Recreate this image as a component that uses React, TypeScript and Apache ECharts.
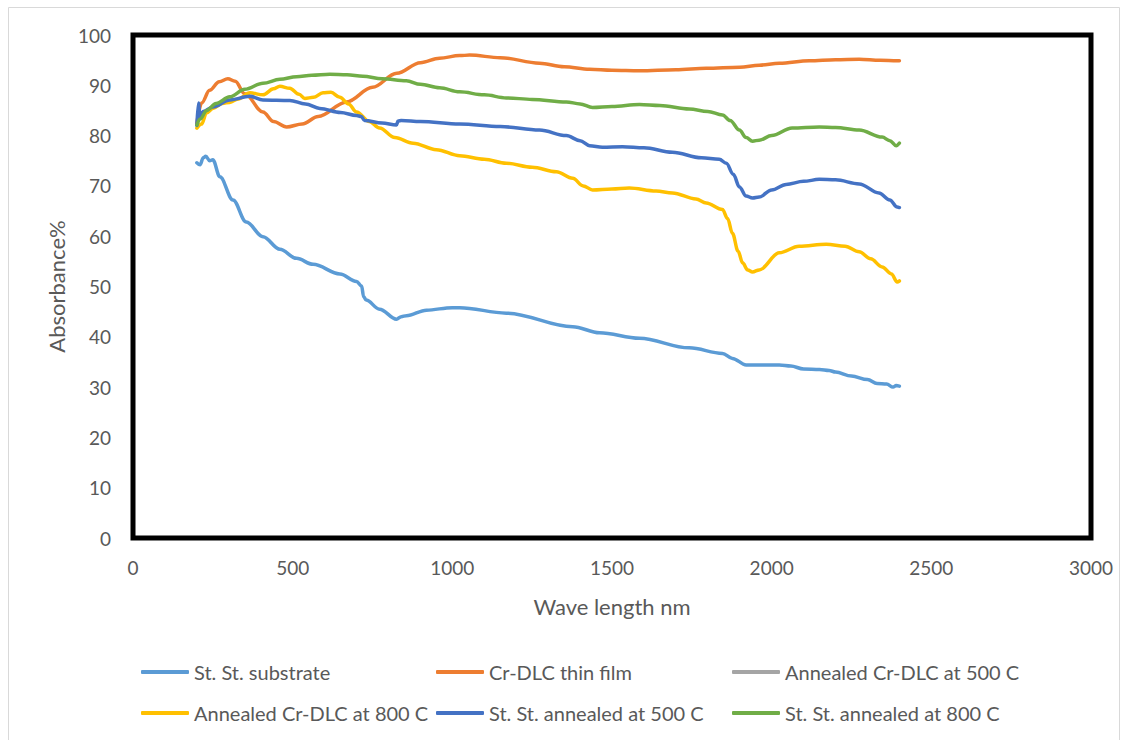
import React, { useEffect, useRef } from "react";
import * as echarts from "echarts";

// Wavelength (nm) / Absorbance (%) readings per series
const substrateWl = [200, 210, 220, 228, 240, 250, 272, 313, 355, 407, 460, 512, 564, 648, 700, 716, 722, 730, 772, 825, 840, 856, 919, 1000, 1023, 1169, 1377, 1461, 1586, 1742, 1846, 1877, 1920, 1960, 2024, 2060, 2100, 2150, 2180, 2200, 2250, 2300, 2330, 2360, 2380, 2390, 2400];
const substrateVal = [74.6, 74.2, 75.6, 75.9, 75.0, 75.2, 71.8, 67.2, 62.8, 59.9, 57.4, 55.6, 54.4, 52.5, 51.0, 50.1, 48.0, 47.3, 45.5, 43.5, 44.0, 44.2, 45.3, 45.8, 45.8, 44.7, 42.0, 40.8, 39.7, 37.8, 36.7, 35.7, 34.4, 34.4, 34.4, 34.2, 33.6, 33.5, 33.3, 33.0, 32.2, 31.5, 30.7, 30.6, 30.0, 30.3, 30.2];

const crdlcWl = [200, 215, 240, 270, 297, 320, 350, 407, 440, 481, 530, 580, 669, 750, 826, 900, 960, 1023, 1054, 1150, 1273, 1350, 1430, 1500, 1586, 1700, 1795, 1900, 1961, 2024, 2118, 2200, 2274, 2340, 2393, 2400];
const crdlcVal = [82.5, 86.5, 89.0, 90.7, 91.3, 90.8, 88.3, 84.7, 82.8, 81.7, 82.3, 83.8, 86.7, 89.6, 92.4, 94.5, 95.4, 95.9, 96.0, 95.5, 94.4, 93.7, 93.2, 93.0, 92.9, 93.1, 93.4, 93.6, 94.0, 94.4, 94.9, 95.1, 95.2, 95.0, 94.9, 94.9];

const ann500Wl: number[] = [];
const ann500Val: number[] = [];

const ann800Wl = [200, 215, 230, 250, 280, 303, 330, 366, 407, 440, 460, 491, 520, 538, 565, 595, 620, 648, 675, 700, 740, 772, 820, 877, 950, 1023, 1100, 1169, 1250, 1326, 1377, 1410, 1439, 1500, 1554, 1638, 1689, 1763, 1795, 1846, 1862, 1877, 1895, 1909, 1925, 1940, 1961, 2024, 2086, 2171, 2230, 2274, 2310, 2346, 2375, 2393, 2400];
const ann800Val = [81.5, 82.3, 84.5, 85.4, 86.4, 86.6, 87.3, 88.5, 88.1, 89.3, 89.8, 89.4, 88.2, 87.4, 87.6, 88.5, 88.6, 87.6, 86.3, 84.7, 82.8, 81.5, 79.6, 78.5, 77.2, 76.0, 75.3, 74.5, 73.7, 72.8, 71.5, 70.0, 69.2, 69.4, 69.6, 69.0, 68.6, 67.4, 66.6, 65.3, 63.5, 60.6, 57.0, 54.7, 53.3, 52.9, 53.3, 56.7, 58.0, 58.4, 58.0, 56.9, 55.5, 53.9, 52.5, 50.9, 51.1];

const ss500Wl = [200, 205, 210, 220, 250, 303, 366, 407, 491, 540, 585, 650, 700, 715, 725, 780, 825, 830, 840, 900, 1023, 1150, 1273, 1357, 1400, 1430, 1470, 1533, 1600, 1689, 1780, 1836, 1858, 1880, 1899, 1920, 1940, 1961, 2000, 2045, 2100, 2149, 2200, 2274, 2336, 2370, 2393, 2400];
const ss500Val = [82.0, 86.5, 83.7, 84.8, 85.7, 87.1, 87.8, 87.1, 87.0, 86.3, 85.4, 84.6, 84.0, 83.8, 83.0, 82.5, 82.1, 82.9, 83.0, 82.8, 82.3, 81.8, 81.1, 80.0, 79.0, 78.0, 77.7, 77.8, 77.6, 76.7, 75.6, 75.3, 74.5, 72.3, 69.8, 68.0, 67.6, 67.8, 69.2, 70.3, 70.9, 71.3, 71.2, 70.4, 68.6, 67.2, 65.8, 65.7];

const ss800Wl = [200, 210, 231, 260, 303, 350, 407, 460, 512, 560, 616, 670, 720, 780, 856, 900, 960, 1023, 1100, 1169, 1250, 1357, 1400, 1439, 1500, 1586, 1650, 1742, 1800, 1846, 1870, 1899, 1920, 1940, 1961, 2000, 2064, 2149, 2200, 2274, 2346, 2370, 2390, 2400];
const ss800Val = [82.1, 83.3, 85.0, 86.4, 87.7, 89.2, 90.4, 91.2, 91.7, 92.0, 92.2, 92.1, 91.8, 91.3, 90.9, 90.2, 89.5, 88.7, 88.1, 87.5, 87.2, 86.7, 86.3, 85.6, 85.8, 86.2, 86.0, 85.3, 84.8, 84.1, 83.0, 81.1, 79.6, 78.9, 79.1, 80.0, 81.5, 81.7, 81.6, 81.1, 79.7, 79.0, 78.0, 78.5];

const seriesNames = [
  "St. St. substrate",
  "Cr-DLC thin film",
  "Annealed Cr-DLC at 500 C",
  "Annealed Cr-DLC at 800 C",
  "St. St. annealed at 500 C",
  "St. St. annealed at 800 C",
];
const seriesColors = ["#5B9BD5", "#ED7D31", "#A5A5A5", "#FFC000", "#4472C4", "#70AD47"];
const seriesWl = [substrateWl, crdlcWl, ann500Wl, ann800Wl, ss500Wl, ss800Wl];
const seriesVal = [substrateVal, crdlcVal, ann500Val, ann800Val, ss500Val, ss800Val];

const xTicks = [0, 500, 1000, 1500, 2000, 2500, 3000];
const yTicks = [0, 10, 20, 30, 40, 50, 60, 70, 80, 90, 100];

const FONT = "Lato";
const TEXT = "#595959";

// legend item positions (left, center y)
const legendPos = [
  [141, 672],
  [436, 672],
  [732, 672],
  [141, 713],
  [436, 713],
  [732, 713],
];

export default function App() {
  const ref = useRef<HTMLDivElement>(null);
  useEffect(() => {
    if (!ref.current) return;
    const chart = echarts.init(ref.current, undefined, { renderer: "svg" });
    const fs = 19;
    chart.setOption({
      animation: false,
      backgroundColor: "#ffffff",
      textStyle: { fontFamily: FONT },
      grid: {
        left: 133,
        right: 37,
        top: 35,
        bottom: 202,
        show: true,
        borderColor: "#000000",
        borderWidth: 5,
        backgroundColor: "transparent",
      },
      xAxis: {
        type: "value",
        min: xTicks[0],
        max: xTicks[xTicks.length - 1],
        interval: 500,
        name: "Wave length nm",
        nameLocation: "middle",
        nameGap: 57,
        nameTextStyle: { fontFamily: FONT, fontSize: 22, color: TEXT },
        axisLine: { show: false },
        axisTick: { show: false },
        splitLine: { show: false },
        axisLabel: {
          fontFamily: FONT,
          fontSize: fs,
          color: TEXT,
          margin: 20,
          formatter: (v: number) => String(v),
        },
      },
      yAxis: {
        type: "value",
        min: yTicks[0],
        max: yTicks[yTicks.length - 1],
        interval: 10,
        name: "Absorbance%",
        nameLocation: "middle",
        nameGap: 64,
        nameTextStyle: { fontFamily: FONT, fontSize: 22, color: TEXT },
        axisLine: { show: false },
        axisTick: { show: false },
        splitLine: { show: false },
        axisLabel: {
          fontFamily: FONT,
          fontSize: fs,
          color: TEXT,
          margin: 22,
          formatter: (v: number) => String(v),
        },
      },
      legend: seriesNames.map((n, i) => ({
        data: [n],
        left: legendPos[i][0],
        top: legendPos[i][1] - 11,
        padding: 0,
        itemWidth: 48,
        itemHeight: 4,
        icon: "roundRect",
        itemGap: 5,
        selectedMode: false,
        textStyle: { fontFamily: FONT, fontSize: 20, color: TEXT, lineHeight: 22 },
      })),
      graphic: [
        {
          type: "rect",
          shape: { x: 8.5, y: 7.5, width: 1111, height: 740 },
          style: { fill: "none", stroke: "#D9D9D9", lineWidth: 1 },
          silent: true,
        },
      ],
      series: seriesNames.map((n, i) => ({
        name: n,
        type: "line",
        data: seriesWl[i].map((w, j) => [w, seriesVal[i][j]]),
        showSymbol: false,
        symbol: "none",
        smooth: 0.35,
        smoothMonotone: "x",
        lineStyle: { color: seriesColors[i], width: 3.5, cap: "round", join: "round" },
        itemStyle: { color: seriesColors[i] },
      })),
    });
    return () => chart.dispose();
  }, []);
  return (
    <div
      ref={ref}
      style={{ position: "fixed", left: 0, top: 0, width: 1128, height: 740, background: "#fff" }}
    />
  );
}
